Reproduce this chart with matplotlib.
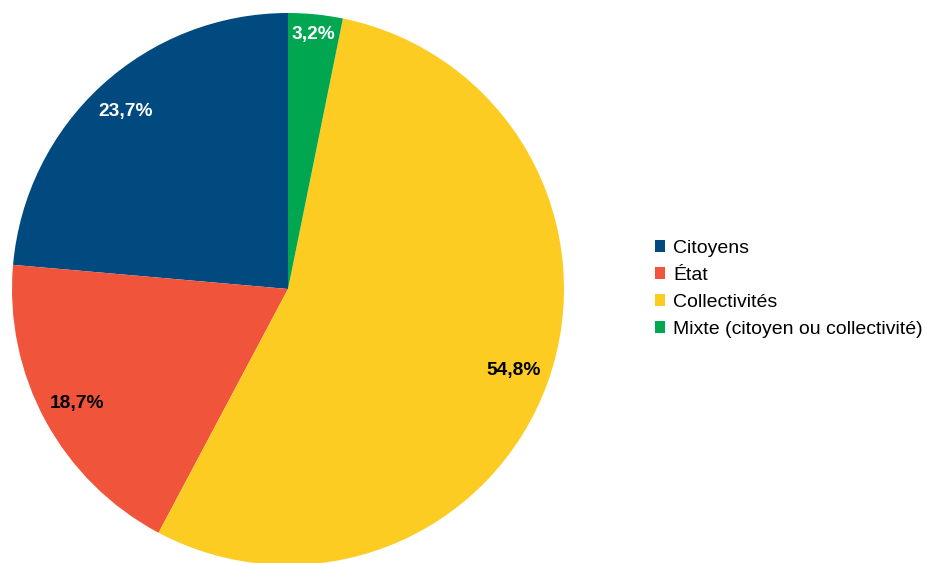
import matplotlib
matplotlib.use("Agg")
import matplotlib.pyplot as plt
from matplotlib.patches import Patch

categories = ["Citoyens", "État", "Collectivités", "Mixte (citoyen ou collectivité)"]
values = [23.7, 18.7, 54.8, 3.2]
colors = ["#004a7f", "#f0553c", "#fdcc23", "#00a650"]
label_colors = ["white", "black", "black", "white"]

plt.rcParams['font.family'] = ['Liberation Sans', 'DejaVu Sans']

W, H = 930, 563
fig = plt.figure(figsize=(W / 100, H / 100), dpi=100)
cx, cy, r = 288, 289, 276
ax = fig.add_axes([(cx - r) / W, (H - cy - r) / H, 2 * r / W, 2 * r / H])

wedges, texts, autotexts = ax.pie(
    values, colors=colors, startangle=90, counterclock=True,
    autopct="%1.1f", pctdistance=0.87, radius=1.0,
    wedgeprops=dict(linewidth=0),
    textprops=dict(fontsize=13.8, fontweight='bold'))
for t, c, v in zip(autotexts, label_colors, values):
    t.set_color(c)
    t.set_text(f"{v:.1f}".replace(".", ",") + "%")
    if v < 5:
        x, y = t.get_position()
        t.set_position((x * 0.925 / 0.87, y * 0.925 / 0.87))
ax.set_xlim(-1, 1)
ax.set_ylim(-1, 1)
ax.set_aspect('equal')
ax.axis('off')

handles = [Patch(facecolor=c, edgecolor='none') for c in colors]
fig.legend(handles, categories, loc='center left',
           bbox_to_anchor=(647 / W, 1 - 289 / H), frameon=False,
           fontsize=14, handlelength=0.55, handleheight=0.55,
           handletextpad=0.4, labelspacing=0.52, borderaxespad=0)

fig.savefig("out.png", dpi=100, facecolor="white")
